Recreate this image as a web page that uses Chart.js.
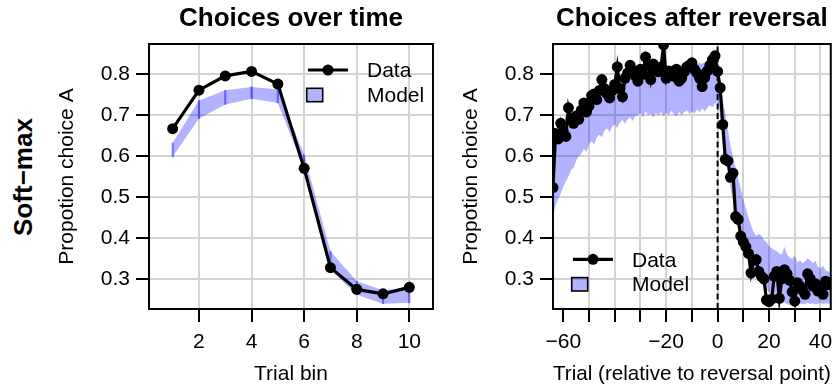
<!DOCTYPE html>
<html><head><meta charset="utf-8">
<script src="https://cdn.jsdelivr.net/npm/chart.js@4.4.1/dist/chart.umd.min.js"></script>
<style>
html,body{margin:0;padding:0;background:#fff;}
body{width:836px;height:387px;overflow:hidden;position:relative;font-family:'Liberation Sans',Arial,Helvetica,sans-serif;}
#rowLabel{position:absolute;left:22.7px;top:177px;transform:translate(-50%,-50%) rotate(-90deg);font-weight:bold;font-size:26px;line-height:1;white-space:nowrap;color:#000;}
#p1{position:absolute;left:0;top:0;width:440px;height:387px;}
#p2{position:absolute;left:440px;top:0;width:400px;height:387px;}
</style></head>
<body>
<div id="rowLabel">Soft−max</div>
<div id="p1"><canvas id="c1"></canvas></div>
<div id="p2"><canvas id="c2"></canvas></div>
<script>
// ---------- Left panel: Choices over time ----------
const trialBins = [1,2,3,4,5,6,7,8,9,10];
const binData = [0.667,0.761,0.796,0.807,0.776,0.570,0.327,0.274,0.263,0.279];
const binModelUpper = [0.632,0.736,0.761,0.769,0.763,0.603,0.367,0.294,0.272,0.278];
const binModelLower = [0.598,0.692,0.726,0.740,0.730,0.568,0.322,0.261,0.239,0.241];
const binTicks = [2,4,6,8,10];
const binTickLabels = ['2','4','6','8','10'];

// ---------- Right panel: Choices after reversal ----------
const trials = [-64,-63,-62,-61,-60,-59,-58,-57,-56,-55,-54,-53,-52,-51,-50,-49,-48,-47,-46,-45,-44,-43,-42,-41,-40,-39,-38,-37,-36,-35,-34,-33,-32,-31,-30,-29,-28,-27,-26,-25,-24,-23,-22,-21,-20,-19,-18,-17,-16,-15,-14,-13,-12,-11,-10,-9,-8,-7,-6,-5,-4,-3,-2,-1,0,1,2,3,4,5,6,7,8,9,10,11,12,13,14,15,16,17,18,19,20,21,22,23,24,25,26,27,28,29,30,31,32,33,34,35,36,37,38,39,40,41,42,43,44];
const revData = [
 0.523,0.655,0.642,0.680,0.660,0.648,0.718,0.692,0.680,0.698,
 0.690,0.712,0.730,0.708,0.722,0.748,0.752,0.738,0.760,0.787,
 0.765,0.752,0.742,0.760,0.775,0.818,0.765,0.745,0.790,0.803,
 0.822,0.808,0.797,0.783,0.812,0.800,0.842,0.822,0.787,0.825,
 0.810,0.806,0.818,0.872,0.790,0.808,0.800,0.795,0.812,0.783,
 0.790,0.805,0.818,0.822,0.828,0.812,0.803,0.790,0.770,0.792,
 0.808,0.822,0.836,0.845,0.807,0.767,0.677,0.592,0.588,0.548,
 0.558,0.452,0.445,0.404,0.390,0.378,0.362,0.314,0.345,0.347,
 0.318,0.306,0.300,0.248,0.244,0.250,0.306,0.318,0.252,0.300,
 0.322,0.312,0.296,0.268,0.245,0.290,0.282,0.272,0.262,0.312,
 0.300,0.282,0.288,0.270,0.278,0.262,0.294,0.285,0.290];
const revModelUpper = [
 0.635,0.645,0.652,0.658,0.665,0.670,0.680,0.685,0.690,0.695,
 0.700,0.710,0.715,0.720,0.725,0.730,0.735,0.740,0.745,0.750,
 0.755,0.758,0.760,0.765,0.768,0.772,0.775,0.778,0.780,0.785,
 0.790,0.792,0.795,0.800,0.800,0.805,0.808,0.805,0.810,0.812,
 0.815,0.812,0.818,0.815,0.820,0.818,0.822,0.820,0.825,0.822,
 0.820,0.825,0.822,0.826,0.824,0.828,0.825,0.828,0.826,0.830,
 0.828,0.832,0.830,0.828,0.815,0.775,0.735,0.705,0.665,0.625,
 0.598,0.572,0.545,0.520,0.495,0.472,0.450,0.430,0.415,0.405,
 0.410,0.405,0.395,0.390,0.380,0.375,0.370,0.368,0.362,0.360,
 0.378,0.360,0.352,0.348,0.356,0.340,0.345,0.338,0.342,0.350,
 0.345,0.338,0.344,0.330,0.325,0.332,0.320,0.318,0.315];
const revModelLower = [
 0.455,0.480,0.495,0.508,0.525,0.538,0.550,0.565,0.572,0.588,
 0.600,0.605,0.618,0.610,0.630,0.636,0.628,0.645,0.652,0.646,
 0.662,0.668,0.658,0.672,0.678,0.668,0.682,0.688,0.679,0.690,
 0.695,0.686,0.698,0.700,0.706,0.694,0.710,0.700,0.704,0.694,
 0.706,0.699,0.708,0.697,0.706,0.700,0.711,0.702,0.697,0.708,
 0.700,0.707,0.712,0.703,0.710,0.704,0.714,0.707,0.716,0.709,
 0.718,0.725,0.719,0.728,0.735,0.700,0.645,0.600,0.560,0.525,
 0.490,0.455,0.425,0.400,0.378,0.360,0.342,0.328,0.315,0.305,
 0.296,0.288,0.280,0.274,0.268,0.262,0.258,0.254,0.250,0.246,
 0.242,0.238,0.236,0.238,0.240,0.238,0.240,0.237,0.239,0.241,
 0.238,0.240,0.237,0.239,0.241,0.238,0.240,0.239,0.240];
const revTicks = [-60,-50,-40,-30,-20,-10,0,10,20,30,40];
const revTickLabels = ['−60','','','','−20','','0','','20','','40'];
const reversalTrial = 0;

// ---------- shared y axis ----------
const yTicks = [0.3,0.4,0.5,0.6,0.7,0.8];
const yTickLabels = ['0.3','0.4','0.5','0.6','0.7','0.8'];
const yRange = [0.226, 0.874];

const FONT = "'Liberation Sans', Arial, Helvetica, sans-serif";
Chart.defaults.font.family = FONT;
Chart.defaults.color = '#000';

const BAND = 'rgba(0,0,255,0.3)';
const GRID = '#d3d3d3';

const pts = (xs, ys) => xs.map((x, i) => ({x: x, y: ys[i]}));

const plotBox = {
  id: 'plotBox',
  afterDatasetsDraw(chart) {
    const {ctx, chartArea: a} = chart;
    ctx.save();
    ctx.strokeStyle = '#000';
    ctx.lineWidth = 2;
    ctx.strokeRect(a.left, a.top, a.right - a.left, a.bottom - a.top);
    ctx.restore();
  }
};

const panelLegend = {
  id: 'panelLegend',
  afterDraw(chart, args, o) {
    const {ctx, chartArea: a} = chart;
    const x0 = (o.fromRight ? a.right : a.left) + o.dx;
    const y0 = (o.fromBottom ? a.bottom : a.top) + o.dy;
    const y1 = y0 + 25;
    ctx.save();
    ctx.strokeStyle = '#000';
    ctx.lineWidth = 3.2;
    ctx.beginPath(); ctx.moveTo(x0, y0); ctx.lineTo(x0 + 40, y0); ctx.stroke();
    ctx.fillStyle = '#000';
    ctx.beginPath(); ctx.arc(x0 + 20, y0, 5.5, 0, Math.PI * 2); ctx.fill();
    ctx.fillStyle = BAND;
    ctx.fillRect(x0 - 1.3, y1 - 6.7, 16, 13.4);
    ctx.lineWidth = 1.6;
    ctx.strokeRect(x0 - 1.3, y1 - 6.7, 16, 13.4);
    ctx.fillStyle = '#000';
    ctx.font = '21px ' + FONT;
    ctx.textBaseline = 'middle';
    ctx.textAlign = 'left';
    ctx.fillText(o.labels[0], x0 + 59, y0 + 1.5);
    ctx.fillText(o.labels[1], x0 + 59, y1 + 1);
    ctx.restore();
  }
};

function gridOpts(colorFn) {
  return {
    color: colorFn || GRID, lineWidth: 2, drawTicks: true, tickLength: 13,
    tickColor: '#000', tickWidth: 2, offset: false, drawOnChartArea: true
  };
}

function makeConfig(p) {
  return {
    type: 'line',
    data: {datasets: p.datasets},
    plugins: [plotBox, panelLegend],
    options: {
      responsive: true, maintainAspectRatio: false, animation: false,
      devicePixelRatio: 1, events: [],
      layout: {padding: {left: 0, right: p.rightPad, top: 0, bottom: 0}},
      plugins: {
        legend: {display: false}, tooltip: {enabled: false},
        title: {display: true, text: p.title, fullSize: false, color: '#000',
                font: {size: 26, weight: 'bold'}, padding: {top: 3, bottom: 9.8}},
        panelLegend: p.legend
      },
      scales: {
        x: {
          type: 'linear', min: p.xMin, max: p.xMax, offset: false,
          afterBuildTicks: s => { s.ticks = p.xTicks.map(v => ({value: v})); },
          afterFit: s => { s.height = 78; },
          ticks: {autoSkip: false, maxRotation: 0, minRotation: 0, padding: 7.5,
                  font: {size: 21}, color: '#000',
                  callback: v => p.xTickLabels[p.xTicks.indexOf(v)]},
          grid: gridOpts(p.xGridColor),
          border: {display: false},
          title: {display: true, text: p.xTitle, color: '#000', font: {size: 21},
                  padding: {top: 0, bottom: 0.4}}
        },
        y: {
          type: 'linear', min: yRange[0], max: yRange[1], beginAtZero: false,
          afterBuildTicks: s => { s.ticks = yTicks.map(v => ({value: v})); },
          afterFit: s => { s.width = p.yWidth; },
          ticks: {padding: 6, font: {size: 21}, color: '#000',
                  callback: v => yTickLabels[yTicks.indexOf(v)]},
          grid: gridOpts(),
          border: {display: false},
          title: {display: true, text: 'Propotion choice A', color: '#000', font: {size: 21},
                  padding: {top: p.yTitlePad, bottom: 0}}
        }
      }
    }
  };
}

// Left chart
new Chart(document.getElementById('c1'), makeConfig({
  title: 'Choices over time',
  xTitle: 'Trial bin',
  xMin: 0.1, xMax: 10.9,
  xTicks: binTicks, xTickLabels: binTickLabels,
  yWidth: 149, yTitlePad: 54.4, rightPad: 7,
  legend: {fromRight: true, fromBottom: false, dx: -125, dy: 26, labels: ['Data', 'Model']},
  datasets: [
    {type: 'line', label: 'Data', data: pts(trialBins, binData), borderColor: '#000',
     backgroundColor: '#000', borderWidth: 3.2, pointRadius: 5.5, pointBorderWidth: 0,
     pointBackgroundColor: '#000', tension: 0, clip: 0, order: 0},
    {type: 'bar', label: 'Model range',
     data: trialBins.map((b, i) => ({x: b, y: [binModelLower[i], binModelUpper[i]]})),
     backgroundColor: 'rgba(0,0,255,0.45)', borderWidth: 0, barThickness: 1.5, clip: 0, order: 1},
    {type: 'line', label: 'Model lower', data: pts(trialBins, binModelLower),
     borderColor: 'rgba(0,0,0,0)', borderWidth: 0, pointRadius: 0, fill: false, clip: 0, order: 2},
    {type: 'line', label: 'Model', data: pts(trialBins, binModelUpper),
     borderColor: 'rgba(0,0,0,0)', borderWidth: 0, pointRadius: 0, fill: '-1',
     backgroundColor: BAND, clip: 0, order: 3}
  ]
}));

// Right chart
new Chart(document.getElementById('c2'), makeConfig({
  title: 'Choices after reversal',
  xTitle: 'Trial (relative to reversal point)',
  xMin: -64, xMax: 44,
  xTicks: revTicks, xTickLabels: revTickLabels,
  xGridColor: c => (c.tick && c.tick.value === -60) ? 'rgba(0,0,0,0)' : GRID,
  yWidth: 113, yTitlePad: 18.4, rightPad: 3,
  legend: {fromRight: false, fromBottom: true, dx: 20, dy: -49.7, labels: ['Data', 'Model']},
  datasets: [
    {type: 'line', label: 'Data', data: pts(trials, revData), borderColor: '#000',
     backgroundColor: '#000', borderWidth: 3.2, pointRadius: 5.5, pointBorderWidth: 0,
     pointBackgroundColor: '#000', tension: 0, clip: 0, order: 0},
    {type: 'line', label: 'Reversal', data: [{x: reversalTrial, y: yRange[0]}, {x: reversalTrial, y: yRange[1]}],
     borderColor: '#000', borderWidth: 2, borderDash: [6, 3.5], pointRadius: 0, fill: false, clip: 0, order: 1},
    {type: 'line', label: 'Model lower', data: pts(trials, revModelLower),
     borderColor: 'rgba(0,0,0,0)', borderWidth: 0, pointRadius: 0, fill: false, clip: 0, order: 2},
    {type: 'line', label: 'Model', data: pts(trials, revModelUpper),
     borderColor: 'rgba(0,0,0,0)', borderWidth: 0, pointRadius: 0, fill: '-1',
     backgroundColor: BAND, clip: 0, order: 3}
  ]
}));
</script>
</body></html>
